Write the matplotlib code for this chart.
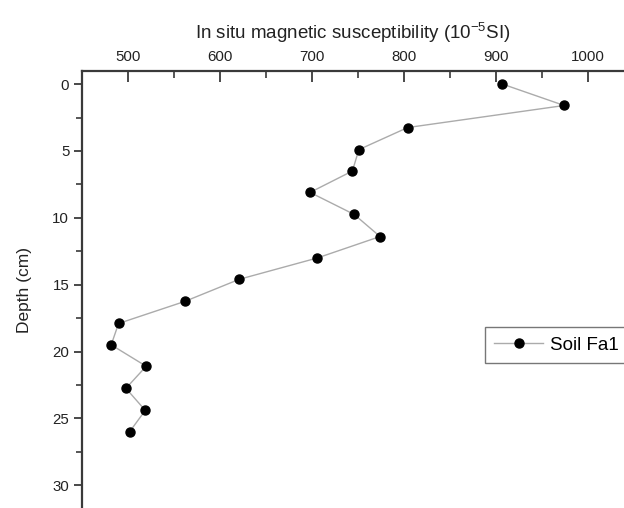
import matplotlib.pyplot as plt
import numpy as np

# depth (cm) and in situ susceptibility (10^-5 SI)
depth = [0.0, 1.6, 3.25, 4.9, 6.5, 8.1, 9.75, 11.4, 13.0, 14.6,
         16.25, 17.9, 19.5, 21.1, 22.75, 24.4, 26.0]
suscept = [907, 974, 804, 751, 744, 698, 746, 774, 706, 621,
           562, 490, 482, 520, 498, 519, 502]
series_name = "Soil Fa1"
x_ticks = [500, 600, 700, 800, 900, 1000]
y_ticks = [0, 5, 10, 15, 20, 25, 30]

plt.rcParams['font.family'] = ['Liberation Sans', 'DejaVu Sans']
spine_col = '#3a3a3a'

fig = plt.figure(figsize=(6.24, 5.08), dpi=100)
ax = fig.add_axes([0.131, 0.0, 0.869, 0.860])

ax.plot(suscept, depth, color='#ababab', lw=1.0, marker='o', ms=6.5,
        mfc='black', mec='black', label=series_name)

ax.set_xlim(450, 1039)
ax.set_ylim(31.7, -0.97)

ax.xaxis.tick_top()
ax.xaxis.set_label_position('top')
ax.set_xticks(x_ticks)
ax.set_xticks(np.arange(450, 1040, 50), minor=True)
ax.set_yticks(y_ticks)
ax.set_yticks(np.arange(2.5, 32, 5), minor=True)

ax.tick_params(axis='x', which='major', direction='in', length=8, width=1.3,
               labelsize=10.8, pad=5, colors=spine_col, labelcolor='#222222')
ax.tick_params(axis='x', which='minor', direction='in', length=5, width=1.2,
               colors=spine_col)
ax.tick_params(axis='y', which='major', direction='out', length=6, width=1.3,
               labelsize=10.8, pad=3, colors=spine_col, labelcolor='#222222')
ax.tick_params(axis='y', which='minor', direction='out', length=4, width=1.2,
               colors=spine_col)

for s in ['right', 'bottom']:
    ax.spines[s].set_visible(False)
for s in ['top', 'left']:
    ax.spines[s].set_color(spine_col)
    ax.spines[s].set_linewidth(1.6)

ax.set_xlabel(r"In situ magnetic susceptibility (10$^{\mathregular{-5}}$SI)",
              fontsize=13.5, labelpad=8, color='#222222')
ax.set_ylabel("Depth (cm)", fontsize=12.5, labelpad=15, color='#222222')

leg = fig.legend(loc='upper left', bbox_to_anchor=(0.777, 0.356),
                 fontsize=13.5, frameon=True, fancybox=False,
                 handlelength=2.6, handletextpad=0.37, borderpad=0.5,
                 borderaxespad=0)
leg.get_frame().set_edgecolor('#555555')
leg.get_frame().set_linewidth(1.0)

fig.savefig('out.png', dpi=100)
